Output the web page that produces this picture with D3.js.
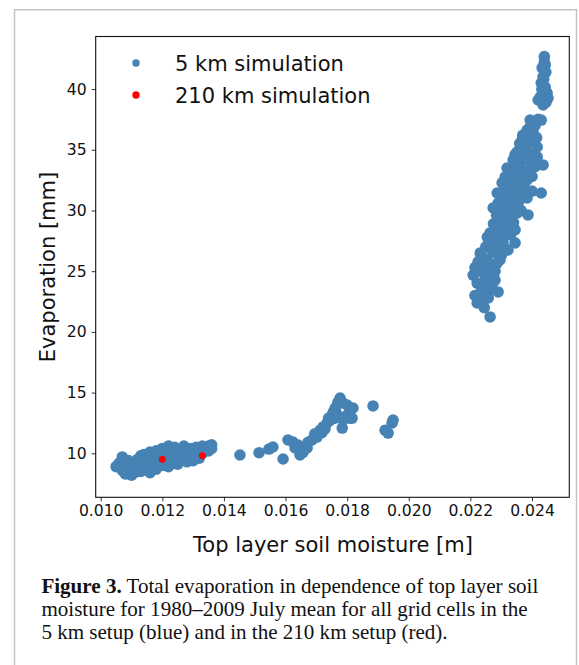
<!DOCTYPE html>
<html>
<head>
<meta charset="utf-8">
<script src="https://cdn.jsdelivr.net/npm/d3@7"></script>
<style>
  html, body { margin: 0; padding: 0; background: #fff; }
  svg { display: block; }
</style>
</head>
<body>
<svg id="chart" width="579" height="665"></svg>
<script>
// ---------- data ----------
// 5 km simulation: dry cluster (soil moisture [m], evaporation [mm])
const dryCluster = [
  [0.0105,8.9],[0.0106,9.2],[0.0107,9.7],[0.0107,8.6],[0.0108,8.3],[0.0109,8.9],[0.0109,9.4],
  [0.0110,8.2],[0.0110,8.7],[0.0111,9.1],[0.0111,8.4],[0.0112,9.5],[0.0112,8.8],[0.0113,9.8],
  [0.0113,8.5],[0.0114,9.2],[0.0114,9.9],[0.0115,8.7],[0.0115,9.5],[0.0116,10.1],[0.0116,8.4],
  [0.0116,9.0],[0.0117,9.7],[0.0118,10.2],[0.0118,9.2],[0.0118,8.7],[0.0119,9.8],[0.0120,10.4],
  [0.0120,9.0],[0.0121,10.0],[0.0121,9.5],[0.0122,10.6],[0.0122,8.9],[0.0123,9.3],[0.0123,10.2],
  [0.0124,9.8],[0.0124,10.5],[0.0125,9.6],[0.0125,9.1],[0.0126,10.3],[0.0126,10.0],[0.0127,9.6],
  [0.0127,10.6],[0.0128,9.3],[0.0128,10.1],[0.0129,10.4],[0.0129,9.8],[0.0130,9.4],[0.0130,10.2],
  [0.0131,10.5],[0.0131,9.9],[0.0132,9.6],[0.0132,10.3],[0.0133,10.0],[0.0133,10.6],[0.0134,10.4],
  [0.0135,10.6],[0.0135,10.2],[0.0136,10.7],[0.0136,10.4]
];
// 5 km simulation: transition points
const transitionPoints = [
  [0.01452,9.86],[0.01514,10.05],[0.01546,10.35],[0.01559,10.52],[0.01592,9.53],[0.01608,11.1],
  [0.01624,10.93],[0.01631,10.44],[0.01641,10.68],[0.01647,9.86],[0.01657,10.1],[0.01670,10.44],
  [0.01673,10.9],[0.01686,11.1],[0.01695,11.6],[0.01702,11.34],[0.01712,11.9],[0.01718,11.7],
  [0.01722,12.17],[0.01728,12.0],[0.01735,12.5],[0.01740,12.9],[0.01745,12.74],[0.01751,13.15],
  [0.01755,13.4],[0.01760,12.9],[0.01761,13.73],[0.01765,13.3],[0.01770,14.2],[0.01777,14.55],
  [0.01784,12.08],[0.01787,12.74],[0.01787,14.14],[0.01800,13.98],[0.01800,13.15],[0.01809,12.9],
  [0.01816,12.9],[0.01819,13.73],[0.01884,13.9],[0.01923,11.9],[0.01933,11.67],[0.01946,12.5],
  [0.01949,12.74]
];
// 5 km simulation: wet cluster
const wetCluster = [
  [0.02440,42.67],[0.02440,42.2],[0.02443,41.99],[0.02433,41.74],[0.02445,41.4],[0.02436,41.0],
  [0.02438,40.8],[0.02430,40.5],[0.02443,40.17],[0.02432,40.0],[0.02440,39.9],[0.02449,39.68],
  [0.02427,39.35],[0.02420,39.1],[0.02443,39.1],[0.02452,39.26],[0.02445,38.9],[0.02436,38.69],
  [0.02420,37.5],[0.02394,37.45],[0.02430,37.45],[0.02410,37.0],[0.02395,36.9],[0.02384,36.63],
  [0.02404,36.38],[0.02370,36.2],[0.02385,36.0],[0.02415,36.0],[0.02400,35.9],[0.02368,35.81],
  [0.02394,35.56],[0.02360,35.5],[0.02417,35.23],[0.02375,35.2],[0.02352,34.82],[0.02384,34.74],
  [0.02345,34.6],[0.02400,34.6],[0.02417,34.41],[0.02370,34.2],[0.02395,34.0],[0.02339,34.16],
  [0.02350,33.9],[0.02436,33.75],[0.02410,33.6],[0.02319,33.5],[0.02361,33.58],[0.02365,33.4],
  [0.02394,33.34],[0.02330,33.2],[0.02375,33.0],[0.02313,32.76],[0.02352,32.76],[0.02335,32.8],
  [0.02400,32.8],[0.02384,32.51],[0.02345,32.4],[0.02303,32.27],[0.02361,32.27],[0.02319,32.1],
  [0.02339,31.94],[0.02375,31.9],[0.02315,31.8],[0.02400,31.6],[0.02287,31.44],[0.02329,31.44],
  [0.02345,31.4],[0.02371,31.44],[0.02430,31.44],[0.02296,31.28],[0.02339,31.12],[0.02384,31.03],
  [0.02360,31.0],[0.02310,31.0],[0.02290,30.6],[0.02330,30.5],[0.02355,30.6],[0.02322,30.29],
  [0.02274,30.21],[0.02300,30.0],[0.02365,30.0],[0.02352,29.8],[0.02387,29.63],[0.02315,29.6],
  [0.02285,29.6],[0.02330,29.5],[0.02300,29.3],[0.02340,29.0],[0.02296,28.97],[0.02275,28.9],
  [0.02320,28.7],[0.02280,28.6],[0.02345,28.4],[0.02300,28.3],[0.02264,28.15],[0.02330,28.0],
  [0.02310,28.0],[0.02290,27.9],[0.02255,27.8],[0.02270,27.6],[0.02260,27.5],[0.02306,27.41],
  [0.02345,27.33],[0.02290,27.0],[0.02250,27.0],[0.02265,26.9],[0.02310,26.9],[0.02322,26.75],
  [0.02232,26.5],[0.02274,26.5],[0.02300,26.3],[0.02235,26.2],[0.02250,26.0],[0.02296,25.92],
  [0.02255,25.8],[0.02225,25.76],[0.02285,25.6],[0.02270,25.5],[0.02215,25.3],[0.02240,25.2],
  [0.02280,25.0],[0.02240,24.9],[0.02264,24.85],[0.02209,24.68],[0.02275,24.6],[0.02250,24.4],
  [0.02280,24.26],[0.02262,24.2],[0.02222,24.02],[0.02270,23.8],[0.02240,23.7],[0.02262,23.4],
  [0.02290,23.29],[0.02232,23.2],[0.02215,23.0],[0.02250,23.0],[0.02258,22.8],[0.02235,22.6],
  [0.02222,22.38],[0.02245,22.0],[0.02264,21.23]
];
// 210 km simulation
const coarsePoints = [[0.0120,9.5],[0.0133,9.8]];

const xTicks = [0.010,0.012,0.014,0.016,0.018,0.020,0.022,0.024];
const yTicks = [10,15,20,25,30,35,40];
const legendLabels = ["5 km simulation","210 km simulation"];
const seriesColors = ["#4682b4","#ff0000"];
const xLabel = "Top layer soil moisture [m]";
const yLabel = "Evaporation [mm]";
const captionBold = "Figure 3.";
const captionLines = [
  " Total evaporation in dependence of top layer soil",
  "moisture for 1980\u20132009 July mean for all grid cells in the",
  "5 km setup (blue) and in the 210 km setup (red)."
];

// ---------- layout ----------
const svg = d3.select("#chart");
const plot = {left: 95.7, right: 569.3, top: 36.5, bottom: 497.3};
const sans = "'DejaVu Sans', sans-serif";
const serif = "'Liberation Serif', 'Times New Roman', serif";

svg.append("rect").attr("width",579).attr("height",665).attr("fill","#fff");
// outer figure border
svg.append("rect").attr("x",14.5).attr("y",9.75).attr("width",562).attr("height",700)
  .attr("fill","none").attr("stroke","#c4c4c4").attr("stroke-width",1.5);

const x = d3.scaleLinear().domain([0.009837, 0.025211]).range([plot.left, plot.right]);
const y = d3.scaleLinear().domain([6.376, 44.33]).range([plot.bottom, plot.top]);

// points
const blue = dryCluster.concat(transitionPoints, wetCluster);
svg.append("g").selectAll("circle").data(blue).join("circle")
  .attr("cx", d => x(d[0])).attr("cy", d => y(d[1])).attr("r", 5.8)
  .attr("fill", seriesColors[0]);
svg.append("g").selectAll("circle").data(coarsePoints).join("circle")
  .attr("cx", d => x(d[0])).attr("cy", d => y(d[1])).attr("r", 3.4)
  .attr("fill", seriesColors[1]);

// axes
const xAxis = svg.append("g").attr("transform",`translate(0,${plot.bottom})`)
  .call(d3.axisBottom(x).tickValues(xTicks).tickFormat(d3.format(".3f")).tickSize(4).tickPadding(4));
const yAxis = svg.append("g").attr("transform",`translate(${plot.left},0)`)
  .call(d3.axisLeft(y).tickValues(yTicks).tickFormat(d3.format("d")).tickSize(4).tickPadding(5));
[xAxis, yAxis].forEach(g => {
  g.select(".domain").remove();
  g.selectAll(".tick line").attr("stroke","#333").attr("stroke-width",1);
  g.selectAll(".tick text").attr("fill","#111").style("font-family",sans).style("font-size","15.6px");
});
xAxis.selectAll(".tick text").attr("dy","0.71em");

// frame
svg.append("rect").attr("x",plot.left).attr("y",plot.top)
  .attr("width",plot.right-plot.left).attr("height",plot.bottom-plot.top)
  .attr("fill","none").attr("stroke","#111").attr("stroke-width",1.1);

// axis labels
svg.append("text").attr("x",333).attr("y",552).attr("text-anchor","middle")
  .style("font-family",sans).style("font-size","21px").attr("fill","#111").text(xLabel);
svg.append("text").attr("transform","translate(55,267) rotate(-90)").attr("text-anchor","middle")
  .style("font-family",sans).style("font-size","21px").attr("fill","#111").text(yLabel);

// legend
const leg = svg.append("g");
legendLabels.forEach((lab,i) => {
  const cy = 63 + i*32;
  leg.append("circle").attr("cx",136).attr("cy",cy).attr("r",3.7).attr("fill",seriesColors[i]);
  leg.append("text").attr("x",175).attr("y",cy+7.6).style("font-family",sans)
    .style("font-size","21px").attr("fill","#111").text(lab);
});

// caption
const cap = svg.append("g");
const capTexts = captionLines.map((line,i) => {
  const t = cap.append("text").attr("x",41.4).attr("y",592.7 + i*23)
    .style("font-family",serif).style("font-size","20px").attr("fill","#111");
  if (i === 0) t.append("tspan").style("font-weight","bold").text(captionBold);
  t.append("tspan").text(line);
  return t;
});
const w0 = capTexts[0].node().getComputedTextLength();
const fs = 20 * 497 / w0;
capTexts.forEach(t => t.style("font-size", fs + "px"));
</script>
</body>
</html>
